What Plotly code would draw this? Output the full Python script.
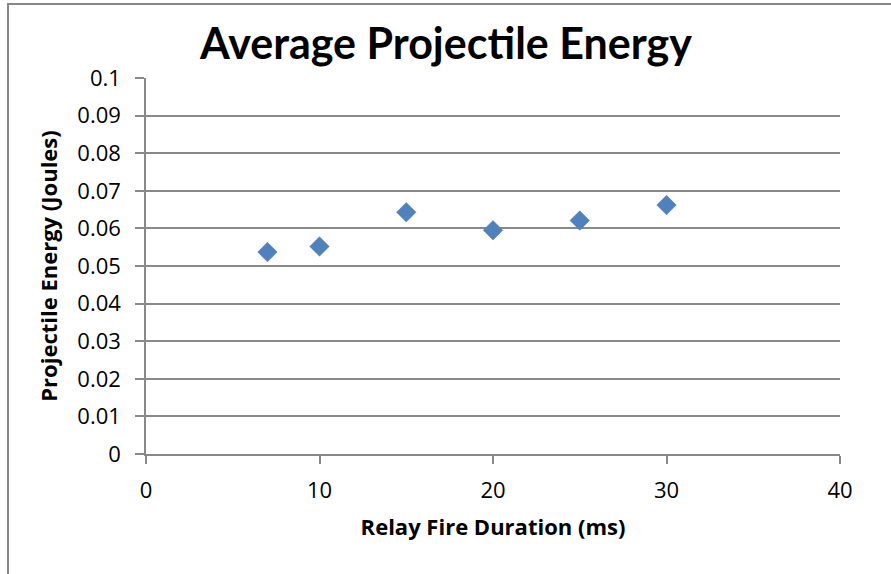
import plotly.graph_objects as go

durations = [7, 10, 15, 20, 25, 30]
energies = [0.0537, 0.0552, 0.0643, 0.0595, 0.0621, 0.0662]
x_ticks = [0, 10, 20, 30, 40]
y_ticks = [0, 0.01, 0.02, 0.03, 0.04, 0.05, 0.06, 0.07, 0.08, 0.09, 0.1]
y_tick_text = ["0", "0.01", "0.02", "0.03", "0.04", "0.05", "0.06", "0.07", "0.08", "0.09", "0.1"]

W, H = 891, 574
L, R, T, B = 146, 51, 78, 120
pw, ph = W - L - R, H - T - B

fig = go.Figure()
fig.add_trace(go.Scatter(
    x=durations, y=energies, mode="markers",
    marker=dict(symbol="diamond", size=15, color="#4F81BD",
                line=dict(width=0.5, color="#4A7EBB")),
    showlegend=False, cliponaxis=False,
))

grid = "#898989"
fig.update_layout(
    width=W, height=H,
    margin=dict(l=L, r=R, t=T, b=B, pad=0),
    paper_bgcolor="white", plot_bgcolor="white",
    title=dict(text="<b>Average Projectile Energy</b>", x=446 / W, xanchor="center",
               y=1 - 59 / H, yanchor="bottom",
               font=dict(family="Lato", size=43, color="black")),
    font=dict(family="Open Sans", color="black"),
    xaxis=dict(range=[0, 40], tickvals=x_ticks, showgrid=False, zeroline=False,
               showline=True, linecolor=grid, linewidth=1.5,
               ticks="outside", ticklen=8, tickcolor=grid, tickwidth=1.5,
               ticklabelstandoff=8,
               tickfont=dict(size=22, family="Open Sans"),
               title=dict(text="<b>Relay Fire Duration (ms)</b>", standoff=16,
                          font=dict(size=22, family="Open Sans"))),
    yaxis=dict(range=[0, 0.1], tickvals=y_ticks, ticktext=y_tick_text,
               showgrid=True, gridcolor=grid, gridwidth=1.5, zeroline=False,
               showline=True, linecolor=grid, linewidth=1.5,
               ticks="outside", ticklen=9, tickcolor=grid, tickwidth=1.5,
               ticklabelstandoff=10,
               tickfont=dict(size=22, family="Open Sans"),
               title=dict(text="<b>Projectile Energy (Joules)</b>", standoff=14,
                          font=dict(size=22, family="Open Sans"))),
)

# outer chart border (partially cropped at right/bottom in the reference)
fig.add_shape(type="rect", xref="paper", yref="paper",
              x0=(8 - L) / pw, x1=(W + 20 - L) / pw,
              y0=-(H + 20 - T - ph) / ph, y1=(H - B - 4) / ph,
              line=dict(color="#878787", width=2), layer="below")

fig.write_html("out.html")
